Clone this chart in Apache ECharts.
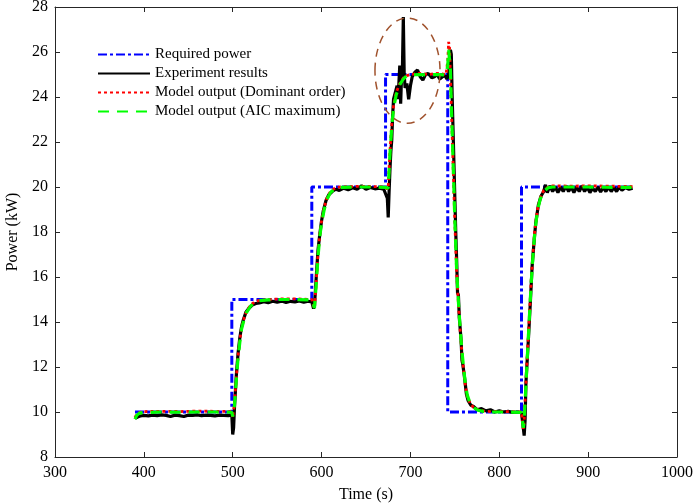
<!DOCTYPE html>
<html>
<head>
<meta charset="utf-8">
<script src="https://cdn.jsdelivr.net/npm/echarts@6/dist/echarts.min.js"></script>
<style>
  html, body { margin: 0; padding: 0; background: #fff; }
  #chart { width: 694px; height: 504px; }
</style>
</head>
<body>
<div id="chart"></div>
<script>
// Power demand step profile (s, kW)
const requiredTime  = [390, 499, 499, 589, 589, 672, 672, 742, 742, 825, 825, 950];
const requiredPower = [10, 10, 15, 15, 20, 20, 25, 25, 10, 10, 20, 20];

// Measured stack power (s, kW)
const expTime = [390, 393, 396, 400, 405, 410, 415, 420, 425, 430, 435, 440, 445, 450, 455, 460, 465, 470, 475, 480, 485, 490, 495, 499,
  500, 501, 502, 504, 506, 508, 510, 512, 515, 518, 522, 526, 530, 535, 540, 545, 550, 555, 560, 565, 570, 575, 580, 585, 589,
  591, 592, 594, 596, 598, 600, 602, 605, 608, 612, 616, 620, 625, 630, 635, 640, 645, 650, 655, 660, 665, 670, 672,
  674, 675, 676, 677, 678, 679, 680, 681, 683, 685, 686, 687, 688, 689, 690, 691, 692, 693, 694, 696, 698, 700, 702, 705, 708,
  711, 714, 717, 720, 724, 727, 730, 733, 736, 739, 741, 743, 745, 746, 747, 748, 749, 750, 751, 752, 753, 754, 755, 757, 758,
  759, 761, 763, 765, 768, 771, 775, 780, 785, 790, 795, 800, 805, 810, 815, 820, 825, 827, 828, 829, 830, 831, 833, 835, 837,
  839, 841, 844, 847, 850, 852, 854, 857, 860, 863, 866, 869, 872, 875, 878, 881, 884, 887, 890, 893, 896, 899, 902, 905, 908,
  911, 914, 917, 920, 923, 926, 929, 932, 935, 938, 942, 946, 950];
const expPower = [9.72, 9.78, 9.82, 9.85, 9.83, 9.86, 9.84, 9.87, 9.85, 9.8, 9.86, 9.84, 9.8, 9.86, 9.85, 9.87, 9.84, 9.86, 9.85, 9.83, 9.86, 9.85, 9.84, 9.86,
  9.0, 9.3, 10.2, 11.6, 12.6, 13.3, 13.8, 14.1, 14.45, 14.6, 14.75, 14.82, 14.85, 14.9, 14.86, 14.92, 14.88, 14.93, 14.87, 14.92, 14.89, 14.94, 14.88, 14.92, 14.9,
  14.6, 14.7, 16.0, 17.2, 17.9, 18.5, 18.95, 19.4, 19.65, 19.8, 19.9, 19.85, 19.95, 19.88, 19.97, 19.9, 20.05, 19.9, 19.98, 19.92, 19.95, 19.9, 19.95,
  19.5, 18.65, 19.8, 20.8, 21.6, 22.1, 23.2, 23.9, 24.2, 24.5, 23.9, 24.6, 25.4, 23.7, 24.9, 25.3, 27.55, 25.0, 24.4, 24.6, 23.9, 24.5, 24.9, 25.1, 25.2,
  24.9, 24.75, 25.0, 25.05, 24.85, 24.9, 25.0, 24.8, 24.9, 24.95, 24.8, 25.0, 26.1, 25.9, 24.0, 22.5, 21.0, 19.5, 18.0, 16.8, 15.3, 15.2, 14.2, 13.2, 12.3,
  12.1, 11.5, 10.8, 10.5, 10.3, 10.25, 10.1, 10.15, 10.05, 10.1, 10.0, 10.05, 10.0, 10.03, 9.98, 10.0, 9.97, 9.3, 8.95, 9.6, 11.3, 12.0, 13.4, 14.9, 16.5,
  17.5, 18.4, 19.2, 19.6, 19.8, 20.1, 19.75, 20.05, 19.8, 20.0, 19.75, 20.0, 19.8, 20.05, 19.8, 20.0, 19.75, 20.0, 19.8, 20.05, 19.8, 20.0, 19.75, 19.95, 19.8,
  20.0, 19.78, 19.98, 19.8, 20.0, 19.8, 19.98, 19.8, 20.0, 19.85, 19.98, 19.9, 19.95];

// Identified model, dominant order (s, kW)
const domTime = [390, 392, 395, 400, 420, 440, 460, 480, 499, 500, 501, 502, 504, 506, 508, 510, 513, 516, 520, 525, 530, 540, 550, 570, 589,
  591, 592, 594, 596, 598, 600, 603, 606, 610, 615, 620, 640, 660, 672, 674, 675, 677, 679, 681, 684, 688, 692, 696, 700, 710, 720, 730, 740,
  742, 743, 744, 745, 746, 748, 750, 752, 754, 756, 758, 760, 762, 764, 767, 771, 776, 782, 790, 810, 825, 826, 827, 828, 830, 832, 834, 836,
  838, 840, 843, 846, 850, 855, 860, 880, 900, 920, 950];
const domPower = [9.75, 9.9, 9.97, 10.02, 10.03, 10.02, 10.04, 10.03, 10.02, 9.75, 9.7, 10.4, 11.5, 12.5, 13.2, 13.75, 14.2, 14.5, 14.75, 14.9, 14.96, 15.0, 15.02, 15.03, 15.0,
  14.7, 14.6, 15.8, 17.0, 17.9, 18.5, 19.1, 19.5, 19.8, 19.95, 20.0, 20.03, 20.02, 20.0, 19.9, 20.0, 21.6, 22.8, 23.6, 24.2, 24.6, 24.85, 24.95, 25.0, 25.05, 25.0, 25.05, 25.0,
  25.6, 26.45, 26.2, 25.0, 23.6, 21.0, 18.4, 16.2, 14.8, 13.6, 12.6, 11.8, 11.1, 10.7, 10.4, 10.2, 10.1, 10.05, 10.02, 10.02, 10.0, 9.6, 9.25, 9.6, 11.3, 12.9, 14.4, 15.9,
  17.1, 18.1, 19.0, 19.5, 19.85, 20.0, 20.05, 20.04, 20.05, 20.04, 20.02];

// Identified model, AIC-maximum order (s, kW)
const aicTime = [390, 392, 395, 400, 420, 440, 460, 480, 499, 500, 501, 502, 504, 506, 508, 510, 513, 516, 520, 525, 530, 540, 550, 570, 589,
  591, 592, 594, 596, 598, 600, 603, 606, 610, 615, 620, 640, 660, 672, 674, 675, 677, 679, 681, 684, 688, 692, 696, 700, 710, 720, 730, 740,
  742, 743, 744, 745, 746, 748, 750, 752, 754, 756, 758, 760, 762, 764, 767, 771, 776, 782, 790, 810, 825, 826, 827, 828, 830, 832, 834, 836,
  838, 840, 843, 846, 850, 855, 860, 880, 900, 920, 950];
const aicPower = [9.68, 9.85, 9.95, 9.98, 10.0, 9.99, 10.0, 10.0, 9.99, 9.8, 9.72, 10.3, 11.4, 12.4, 13.1, 13.7, 14.15, 14.45, 14.7, 14.88, 14.95, 14.98, 15.0, 15.0, 14.98,
  14.75, 14.62, 15.7, 16.9, 17.8, 18.4, 19.0, 19.45, 19.75, 19.93, 19.98, 20.0, 20.0, 19.98, 19.9, 19.95, 21.5, 22.7, 23.5, 24.1, 24.55, 24.8, 24.95, 24.98, 25.0, 24.98, 25.0, 24.98,
  25.4, 26.1, 26.1, 25.2, 23.7, 21.1, 18.5, 16.3, 14.9, 13.7, 12.7, 11.9, 11.2, 10.75, 10.4, 10.2, 10.08, 10.03, 10.0, 10.0, 9.98, 9.65, 9.3, 9.6, 11.2, 12.8, 14.3, 15.8,
  17.0, 18.0, 18.95, 19.45, 19.8, 19.97, 20.0, 20.0, 20.0, 19.99, 19.98];

// Tick values
const xTicks = { min: 300, max: 1000, step: 100 };
const yTicks = { min: 8, max: 28, step: 2 };

const zip = (ts, vs) => ts.map((t, i) => [t, vs[i]]);

const FONT = 'Liberation Serif';
const AXIS_COLOR = '#262626';

const chart = echarts.init(document.getElementById('chart'), null, { renderer: 'canvas' });

function baseAxis(extra) {
  return Object.assign({
    type: 'value',
    axisLine: { show: true, onZero: false, lineStyle: { color: AXIS_COLOR, width: 1 } },
    axisTick: { show: true, inside: true, length: 5, lineStyle: { color: AXIS_COLOR } },
    splitLine: { show: false },
    axisLabel: { color: '#000', fontFamily: FONT, fontSize: 16 }
  }, extra);
}

const plainLabel = (v) => String(v);

chart.setOption({
  animation: false,
  backgroundColor: '#fff',
  grid: { left: 55, right: 17, top: 7, bottom: 47, containLabel: false, outerBoundsMode: 'none' },
  xAxis: [
    baseAxis({
      min: xTicks.min, max: xTicks.max, interval: xTicks.step, position: 'bottom',
      name: 'Time (s)', nameLocation: 'middle', nameGap: 30,
      nameTextStyle: { color: '#000', fontFamily: FONT, fontSize: 16 },
      axisLabel: { color: '#000', fontFamily: FONT, fontSize: 16, margin: 8, formatter: plainLabel }
    }),
    baseAxis({
      min: xTicks.min, max: xTicks.max, interval: xTicks.step, position: 'top',
      axisLabel: { show: false }
    })
  ],
  yAxis: [
    baseAxis({
      min: yTicks.min, max: yTicks.max, interval: yTicks.step, position: 'left',
      name: 'Power (kW)', nameLocation: 'middle', nameGap: 32,
      nameTextStyle: { color: '#000', fontFamily: FONT, fontSize: 16 },
      axisLabel: { color: '#000', fontFamily: FONT, fontSize: 16, margin: 7, formatter: plainLabel }
    }),
    baseAxis({
      min: yTicks.min, max: yTicks.max, interval: yTicks.step, position: 'right',
      axisLabel: { show: false }
    })
  ],
  legend: {
    orient: 'vertical',
    left: 92,
    top: 42,
    itemWidth: 52,
    itemHeight: 14,
    itemGap: 4,
    itemStyle: { opacity: 0 },
    textStyle: { color: '#000', fontFamily: FONT, fontSize: 15 },
    data: ['Required power', 'Experiment results', 'Model output (Dominant order)', 'Model output (AIC maximum)']
  },
  series: [
    {
      name: 'Required power', type: 'line', symbol: 'none', data: zip(requiredTime, requiredPower),
      lineStyle: { color: '#0000ff', width: 3, type: [9, 3, 3, 3] }, itemStyle: { color: '#0000ff' }
    },
    {
      name: 'Experiment results', type: 'line', symbol: 'none', data: zip(expTime, expPower),
      lineStyle: { color: '#000000', width: 3.2 }, itemStyle: { color: '#000000' }
    },
    {
      name: 'Model output (Dominant order)', type: 'line', symbol: 'none', data: zip(domTime, domPower),
      lineStyle: { color: '#ff0000', width: 2.8, type: [3, 3] }, itemStyle: { color: '#ff0000' }
    },
    {
      name: 'Model output (AIC maximum)', type: 'line', symbol: 'none', data: zip(aicTime, aicPower),
      lineStyle: { color: '#00ff00', width: 3.2, type: [11, 8] }, itemStyle: { color: '#00ff00' }
    }
  ]
});

// Dashed ellipse highlighting the overshoot region around the 25 kW step
const ellipseCenter = [696.7, 25.17];
const ellipseHalf = [36.6, 2.34];
const c = chart.convertToPixel({ gridIndex: 0 }, ellipseCenter);
const e = chart.convertToPixel({ gridIndex: 0 }, [ellipseCenter[0] + ellipseHalf[0], ellipseCenter[1] - ellipseHalf[1]]);
chart.setOption({
  graphic: [{
    type: 'ellipse',
    shape: { cx: c[0], cy: c[1], rx: Math.abs(e[0] - c[0]), ry: Math.abs(e[1] - c[1]) },
    style: { fill: 'none', stroke: '#a0522d', lineWidth: 1.5, lineDash: [8, 6] },
    z: 10
  }]
});
</script>
</body>
</html>
